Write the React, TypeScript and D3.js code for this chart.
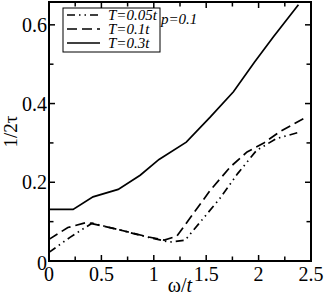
import React from 'react'
import * as d3 from 'd3'

// omega/t samples and 1/2tau values
const omega03 = [0, 0.23, 0.42, 0.66, 0.87, 1.05, 1.31, 1.54, 1.76, 1.96, 2.14, 2.38]
const rate03 = [0.131, 0.131, 0.163, 0.182, 0.218, 0.258, 0.302, 0.366, 0.43, 0.505, 0.569, 0.651]

const omega01 = [0, 0.18, 0.36, 0.66, 0.95, 1.1, 1.22, 1.54, 1.73, 1.89, 2.05, 2.2, 2.43]
const rate01 = [0.055, 0.085, 0.098, 0.08, 0.061, 0.053, 0.063, 0.18, 0.239, 0.277, 0.3, 0.328, 0.362]

const omega005 = [0, 0.2, 0.41, 0.66, 0.95, 1.15, 1.3, 1.63, 1.8, 1.98, 2.17, 2.4]
const rate005 = [0.022, 0.06, 0.096, 0.08, 0.06, 0.048, 0.053, 0.159, 0.222, 0.281, 0.311, 0.328]

const seriesNames = ['T=0.05t', 'T=0.1t', 'T=0.3t']
const xTicks = [0, 0.5, 1, 1.5, 2, 2.5]
const yTicks = [0, 0.2, 0.4, 0.6]

const dashes = ['8,4,1.5,4,1.5,4', '10,5', null]

export default function App() {
    const width = 325, height = 300
    const margin = {top: 2, right: 14, bottom: 39, left: 49}

    const x = d3.scaleLinear().domain([0, 2.5]).range([margin.left, width - margin.right])
    const y = d3.scaleLinear().domain([0, 0.658]).range([height - margin.bottom, margin.top])

    const series = [
        omega005.map((w, i) => [w, rate005[i]]),
        omega01.map((w, i) => [w, rate01[i]]),
        omega03.map((w, i) => [w, rate03[i]]),
    ]

    const line = d3.line<number[]>()
        .x(d => x(d[0]))
        .y(d => y(d[1]))

    const x0 = x.range()[0], x1 = x.range()[1]
    const y0 = y.range()[0], y1 = y.range()[1]

    const xMinor = d3.range(0.25, 2.5, 0.5)
    const yMinor = [0.1, 0.3, 0.5]

    return (
        <svg width={width} height={height}
            style={{position: 'absolute', left: 0, top: 0, background: 'white',
                fontFamily: "'Liberation Serif', 'Times New Roman', 'DejaVu Serif', serif"}}>
            {/* curves */}
            {series.map((s, i) => (
                <path key={i} d={line(s) || ''} fill="none" stroke="black"
                    strokeWidth={1.7} strokeDasharray={dashes[i] || undefined} />
            ))}

            {/* ticks, mirrored on all four sides */}
            <g stroke="black" strokeWidth={1.5}>
                {xTicks.map(t => (
                    <g key={'xt' + t}>
                        <line x1={x(t)} x2={x(t)} y1={y0} y2={y0 - 6} />
                        <line x1={x(t)} x2={x(t)} y1={y1} y2={y1 + 6} />
                    </g>
                ))}
                {xMinor.map(t => (
                    <g key={'xm' + t}>
                        <line x1={x(t)} x2={x(t)} y1={y0} y2={y0 - 4.5} />
                        <line x1={x(t)} x2={x(t)} y1={y1} y2={y1 + 4.5} />
                    </g>
                ))}
                {yTicks.map(t => (
                    <g key={'yt' + t}>
                        <line x1={x0} x2={x0 + 6} y1={y(t)} y2={y(t)} />
                        <line x1={x1} x2={x1 - 6} y1={y(t)} y2={y(t)} />
                    </g>
                ))}
                {yMinor.map(t => (
                    <g key={'ym' + t}>
                        <line x1={x0} x2={x0 + 4.5} y1={y(t)} y2={y(t)} />
                        <line x1={x1} x2={x1 - 4.5} y1={y(t)} y2={y(t)} />
                    </g>
                ))}
            </g>
            <rect x={x0} y={y1} width={x1 - x0} height={y0 - y1} fill="none" stroke="black" strokeWidth={2} />

            {/* tick labels */}
            <g fontSize={20} fill="black">
                {xTicks.map(t => (
                    <text key={'xl' + t} x={x(t)} y={y0 + 20} textAnchor="middle">{t}</text>
                ))}
                {yTicks.map(t => (
                    <text key={'yl' + t} x={x0 - 2} y={t === 0 ? y(t) + 9 : y(t) + 7} textAnchor="end">{t}</text>
                ))}
            </g>

            {/* axis titles */}
            <text x={(x0 + x1) / 2} y={292} textAnchor="middle" fontSize={20}>
                ω/<tspan fontStyle="italic">t</tspan>
            </text>
            <text transform={`translate(17,${(y0 + y1) / 2}) rotate(-90)`} textAnchor="middle" fontSize={19}>1/2τ</text>

            {/* legend */}
            <rect x={63} y={8} width={97} height={44} fill="white" stroke="black" strokeWidth={1} />
            {seriesNames.map((name, i) => (
                <g key={name}>
                    <line x1={67} x2={100} y1={15 + i * 14} y2={15 + i * 14} stroke="black"
                        strokeWidth={1.7} strokeDasharray={dashes[i] || undefined} />
                    <text x={108} y={20 + i * 14} fontSize={15} fontStyle="italic">{name}</text>
                </g>
            ))}
            <text x={161} y={24} fontSize={15} fontStyle="italic">p=0.1</text>
        </svg>
    )
}
